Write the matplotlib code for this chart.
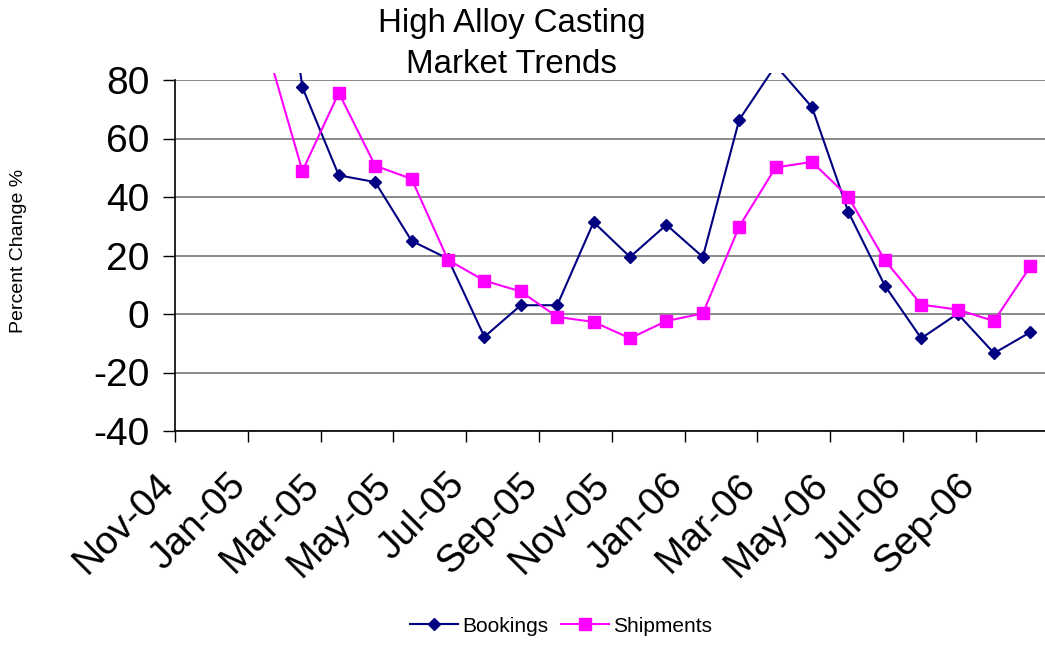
import numpy as np
import matplotlib
matplotlib.use("Agg")
import matplotlib.pyplot as plt
from matplotlib.transforms import Bbox, TransformedBbox

plt.rcParams['font.family'] = ['Liberation Sans', 'DejaVu Sans']

months = ["Nov-04", "Dec-04", "Jan-05", "Feb-05", "Mar-05", "Apr-05", "May-05", "Jun-05",
          "Jul-05", "Aug-05", "Sep-05", "Oct-05", "Nov-05", "Dec-05", "Jan-06", "Feb-06",
          "Mar-06", "Apr-06", "May-06", "Jun-06", "Jul-06", "Aug-06", "Sep-06", "Oct-06"]
bookings = [np.nan, np.nan, 165, 77.5, 47.4, 45.1, 25.0, 18.9, -7.8, 3.0, 3.0, 31.4,
            19.5, 30.5, 19.5, 66.4, 85, 70.7, 34.8, 9.7, -8.3, 0.1, -13.4, -6.2]
shipments = [np.nan, np.nan, 92, 48.9, 75.6, 50.7, 46.2, 18.5, 11.4, 7.7, -1.0, -2.7,
             -8.3, -2.4, 0.2, 29.9, 50.1, 52.0, 40.0, 18.4, 3.2, 1.5, -2.4, 16.3]
yticks = [-40, -20, 0, 20, 40, 60, 80]

W, H = 1045, 645
fig = plt.figure(figsize=(W / 100, H / 100), dpi=100)
ax = fig.add_axes([175 / W, 1 - 431 / H, 1 - 175 / W, (431 - 80) / H])

x = np.arange(len(months)) + 0.5
l1, = ax.plot(x, bookings, color='#000080', lw=1.5, marker='D', ms=6.2,
              label='Bookings')
l2, = ax.plot(x, shipments, color='#FF00FF', lw=1.5, marker='s', ms=8.5,
              label='Shipments')
clip = TransformedBbox(Bbox.from_extents(0, 0, 1, 1 + 7 / 351), ax.transAxes)
for ln in (l1, l2):
    ln.set_clip_path(None)
    ln.set_clip_box(clip)

ax.set_xlim(0, 23.9)
ax.set_ylim(-40, 80)
ax.set_yticks(yticks)
ax.set_yticklabels([str(v) for v in yticks])
ax.set_xticks(np.arange(0, 24, 2))
ax.set_xticklabels(months[::2])

ax.yaxis.grid(True, color='#808080', lw=1.3)
ax.set_axisbelow(True)
for s in ('top', 'right'):
    ax.spines[s].set_visible(False)
for s in ('left', 'bottom'):
    ax.spines[s].set_color('black')
    ax.spines[s].set_linewidth(1.2)

ax.tick_params(axis='y', direction='out', length=8.6, width=1.0, pad=10, labelsize=28)
ax.tick_params(axis='x', direction='out', length=8, width=1.0, pad=32, labelsize=28)
for lab in ax.get_xticklabels():
    lab.set_rotation(45)
    lab.set_ha('right')
    lab.set_va('baseline')
    lab.set_rotation_mode('anchor')

ax.set_ylabel('Percent Change %', fontsize=14)
ax.yaxis.set_label_coords((27 - 175) / 870, (431 - 251) / 351)

fig.text(512 / W, 1 - 44 / H, "High Alloy Casting\nMarket Trends", ha='center',
         va='center', fontsize=23.8, linespacing=1.42)

fig.legend(handles=[l1, l2], loc='center', bbox_to_anchor=(561 / W, 1 - 626 / H),
           ncol=2, frameon=False, fontsize=15, handlelength=2.3, handletextpad=0.2,
           columnspacing=0.6)

fig.savefig('out.png', dpi=100)
